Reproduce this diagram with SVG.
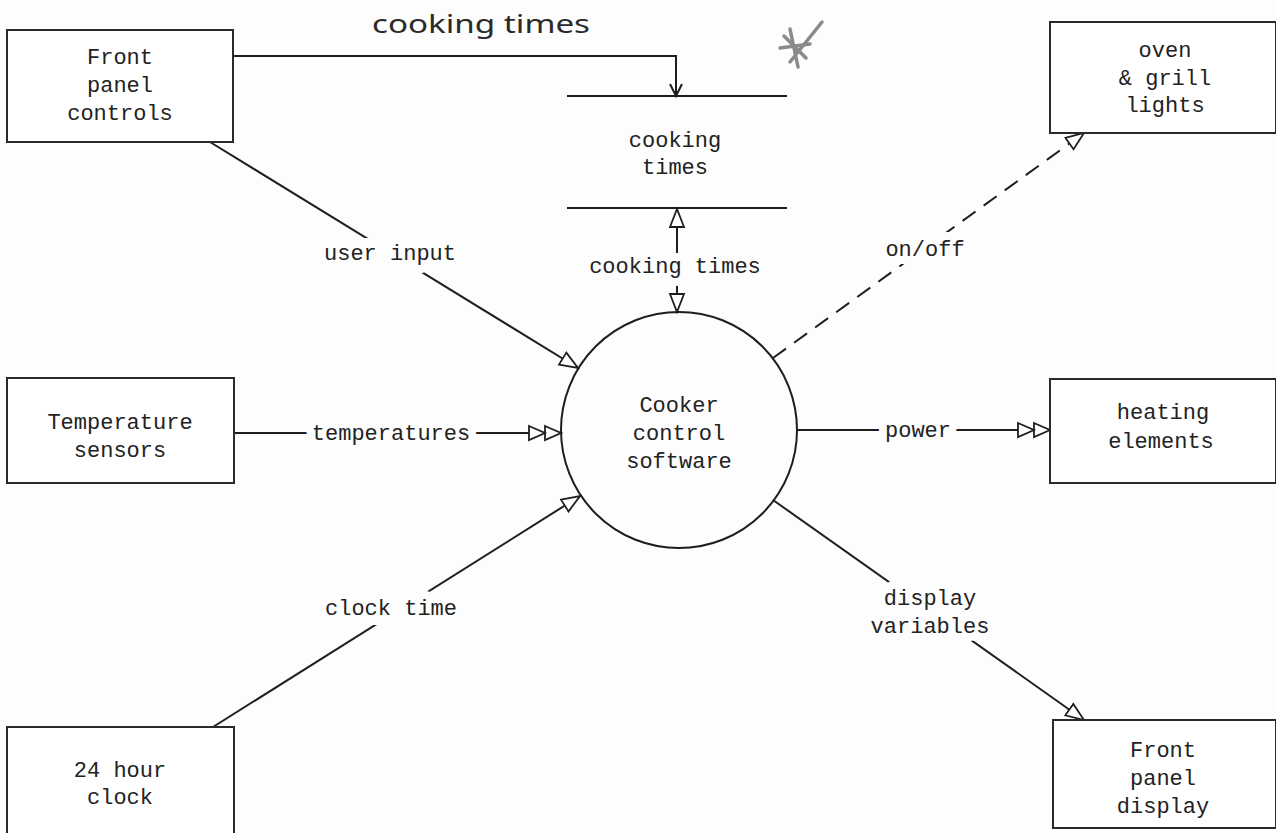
<svg xmlns="http://www.w3.org/2000/svg" width="1276" height="833" viewBox="0 0 1276 833">
  <style>
    .box { fill: #fff; stroke: #2a2a2a; stroke-width: 2; }
    .t { font-family: "Liberation Mono", "DejaVu Sans Mono", monospace; font-size: 22px; fill: #222; text-anchor: middle; }
    .lbl { font-family: "Liberation Mono", "DejaVu Sans Mono", monospace; font-size: 22px; fill: #222; text-anchor: middle; stroke: #fdfdfd; stroke-width: 16px; paint-order: stroke; stroke-linejoin: round; }
    .gap { fill: #fdfdfd; }
    .flow { fill: none; stroke: #1e1e1e; stroke-width: 2; }
    .dash { stroke-dasharray: 16 10; }
    .hand { font-family: "Noto Sans", "DejaVu Sans", sans-serif; font-weight: 400; font-size: 25px; fill: #2a2a2a; }
  </style>
  <defs>
    <marker id="tri" markerWidth="22" markerHeight="18" refX="19" refY="9" orient="auto-start-reverse" markerUnits="userSpaceOnUse">
      <path d="M1,2 L19,9 L1,16 Z" fill="#fff" stroke="#1e1e1e" stroke-width="1.8"/>
    </marker>
    <marker id="tri2" markerWidth="36" markerHeight="18" refX="33" refY="9" orient="auto" markerUnits="userSpaceOnUse">
      <path d="M1,2 L17,9 L1,16 Z M17,2 L33,9 L17,16 Z" fill="#fff" stroke="#1e1e1e" stroke-width="1.8"/>
    </marker>
  </defs>

  <rect width="1276" height="833" fill="#fdfdfd"/>

  <!-- data flows -->
  <g id="connectors">
    <!-- handwritten store update -->
    <polyline class="flow" points="233,56 676,56 676,95"/>
    <path class="flow" d="M670,84 L676,96 L682,84"/>
    <!-- store access -->
    <line class="flow" x1="677" y1="209" x2="677" y2="312" marker-start="url(#tri)" marker-end="url(#tri)"/>
    <line class="flow" x1="210" y1="142" x2="578" y2="368" marker-end="url(#tri)"/>
    <line class="flow" x1="234" y1="433" x2="561" y2="433" marker-end="url(#tri2)"/>
    <line class="flow" x1="213" y1="727" x2="580" y2="496" marker-end="url(#tri)"/>
    <line class="flow dash" x1="773" y1="358" x2="1084" y2="133" marker-end="url(#tri)"/>
    <line class="flow" x1="797" y1="430" x2="1050" y2="430" marker-end="url(#tri2)"/>
    <line class="flow" x1="773" y1="500" x2="1084" y2="720" marker-end="url(#tri)"/>

    <!-- label gaps on the diagonal flows -->
    <rect class="gap" x="318" y="238" width="144" height="32"/>
    <rect class="gap" x="319" y="593" width="144" height="32"/>

    <text class="hand" x="372" y="33" textLength="218" lengthAdjust="spacingAndGlyphs">cooking times</text>
    <text class="lbl" x="675" y="273">cooking times</text>
    <text class="lbl" x="390" y="260">user input</text>
    <text class="lbl" x="391" y="440">temperatures</text>
    <text class="lbl" x="391" y="615">clock time</text>
    <text class="lbl" x="925" y="256">on/off</text>
    <text class="lbl" x="918" y="437">power</text>
    <text class="lbl" x="930" y="605">display</text>
    <text class="lbl" x="930" y="633">variables</text>
  </g>

  <!-- margin asterisk mark -->
  <g id="mark" stroke="#8a8a8a" stroke-width="3.5" stroke-linecap="round" fill="none">
    <path d="M790,29 L798,67"/>
    <path d="M780,48 L810,44"/>
    <path d="M784,36 L806,58"/>
    <path d="M790,62 L822,22"/>
  </g>

  <g id="store">
    <line class="flow" x1="567" y1="96" x2="787" y2="96"/>
    <line class="flow" x1="567" y1="208" x2="787" y2="208"/>
    <text class="t" x="675" y="147">cooking</text>
    <text class="t" x="675" y="174">times</text>
  </g>

  <g id="process">
    <circle cx="679" cy="430" r="118" fill="none" stroke="#1e1e1e" stroke-width="2"/>
    <text class="t" x="679" y="412">Cooker</text>
    <text class="t" x="679" y="440">control</text>
    <text class="t" x="679" y="468">software</text>
  </g>

  <g id="front-panel-controls">
    <rect class="box" x="7" y="30" width="226" height="112"/>
    <text class="t" x="120" y="64">Front</text>
    <text class="t" x="120" y="92">panel</text>
    <text class="t" x="120" y="120">controls</text>
  </g>

  <g id="temperature-sensors">
    <rect class="box" x="7" y="378" width="227" height="105"/>
    <text class="t" x="120" y="429">Temperature</text>
    <text class="t" x="120" y="457">sensors</text>
  </g>

  <g id="clock">
    <rect class="box" x="7" y="727" width="227" height="112"/>
    <text class="t" x="120" y="777">24 hour</text>
    <text class="t" x="120" y="804">clock</text>
  </g>

  <g id="lights">
    <rect class="box" x="1050" y="22" width="226" height="111"/>
    <text class="t" x="1165" y="57">oven</text>
    <text class="t" x="1165" y="85">&amp; grill</text>
    <text class="t" x="1165" y="112">lights</text>
  </g>

  <g id="heating-elements">
    <rect class="box" x="1050" y="379" width="226" height="104"/>
    <text class="t" x="1163" y="419">heating</text>
    <text class="t" x="1161" y="448">elements</text>
  </g>

  <g id="front-panel-display">
    <rect class="box" x="1053" y="720" width="223" height="108"/>
    <text class="t" x="1163" y="757">Front</text>
    <text class="t" x="1163" y="785">panel</text>
    <text class="t" x="1163" y="813">display</text>
  </g>
</svg>
